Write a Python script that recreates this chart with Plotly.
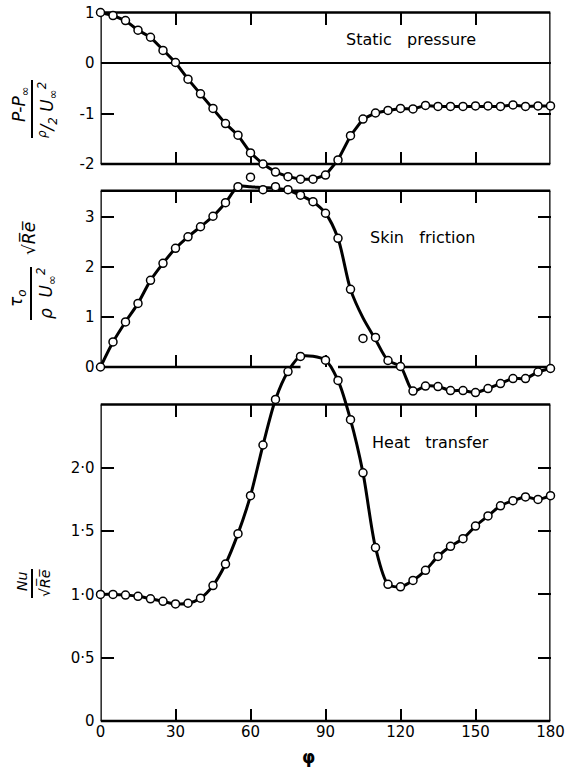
import plotly.graph_objects as go

# ---- data -------------------------------------------------------------
angle = list(range(0, 181, 5))

pressure = [1.00, 0.94, 0.84, 0.65, 0.51, 0.25, 0.01, -0.32, -0.61, -0.90,
            -1.20, -1.43, -1.78, -2.00, -2.16, -2.25, -2.30, -2.30, -2.22, -1.92,
            -1.44, -1.11, -0.99, -0.94, -0.90, -0.91, -0.84, -0.86, -0.86, -0.86,
            -0.85, -0.85, -0.86, -0.83, -0.86, -0.85, -0.85]

friction_pts = [0.00, 0.50, 0.90, 1.27, 1.73, 2.07, 2.37, 2.60, 2.80, 3.01,
                3.28, 3.60, 3.79, 3.54, 3.60, 3.54, 3.43, 3.30, 3.07, 2.57,
                1.55, 0.57, 0.59, 0.13, 0.01, -0.48, -0.38, -0.39, -0.47, -0.47,
                -0.51, -0.43, -0.33, -0.23, -0.23, -0.10, -0.03]

# faired curve through the skin-friction measurements
friction_curve = [0.00, 0.50, 0.90, 1.27, 1.73, 2.07, 2.37, 2.60, 2.80, 3.01,
                  3.28, 3.60, 3.60, 3.58, 3.57, 3.53, 3.43, 3.30, 3.07, 2.57,
                  1.55, 0.98, 0.55, 0.13, 0.01, -0.48, -0.38, -0.39, -0.47, -0.47,
                  -0.51, -0.43, -0.33, -0.23, -0.23, -0.10, -0.03]

heat_angle = [a for a in angle if a != 85]
heat = [1.00, 1.00, 0.995, 0.985, 0.965, 0.945, 0.925, 0.93, 0.97, 1.07,
        1.24, 1.48, 1.78, 2.18, 2.54, 2.76, 2.88, 2.85, 2.69, 2.38,
        1.96, 1.37, 1.08, 1.06, 1.11, 1.19, 1.30, 1.38, 1.44, 1.54,
        1.62, 1.70, 1.74, 1.77, 1.75, 1.78]

x_ticks = [0, 30, 60, 90, 120, 150, 180]
p_ticks = [-2, -1, 0, 1]
p_text = ["-2", "-1", "0", "1"]
f_ticks = [0, 1, 2, 3]
f_text = ["0", "1", "2", "3"]
h_ticks = [0, 0.5, 1.0, 1.5, 2.0]
h_text = ["0", "0·5", "1·0", "1·5", "2·0"]

# ---- layout geometry (pixels) -----------------------------------------
W, H = 571, 768
X0, X1 = 100.5, 550.5
# (top px, bottom px, value at bottom, value at top)
panels = [
    (12.5, 164.0, -2.0, 1.0),
    (190.7, 367.0, 0.0, 3.52),
    (404.5, 721.0, 0.0, 2.5),
]
FONT = "DejaVu Sans"


def px(x):
    return x / W


def py(y):
    return 1 - y / H


def sid(n):
    return "" if n == 1 else str(n)


fig = go.Figure()
layout = dict(
    width=W, height=H,
    margin=dict(l=0, r=0, t=0, b=0, pad=0, autoexpand=False),
    paper_bgcolor="white", plot_bgcolor="rgba(0,0,0,0)",
    showlegend=False, font=dict(family=FONT, size=15, color="black"),
)

tick_sets = [(p_ticks, p_text), (f_ticks, f_text), (h_ticks, h_text)]
for i, (top, bot, lo, hi) in enumerate(panels):
    k = sid(i + 1)
    d = sid(i + 4)
    ax_x = dict(domain=[px(X0), px(X1)], range=[0, 180], anchor=f"y{k}",
                tickvals=x_ticks, ticks="inside", ticklen=12, tickwidth=2,
                tickcolor="black", mirror="ticks", showline=False,
                showgrid=False, zeroline=False, showticklabels=(i == 2),
                tickfont=dict(family=FONT, size=15))
    tv, tt = tick_sets[i]
    ax_y = dict(domain=[py(bot), py(top)], range=[lo, hi], anchor=f"x{k}",
                tickvals=tv, ticktext=tt, ticks="inside", ticklen=13,
                tickwidth=2, tickcolor="black", mirror="ticks", showline=False,
                showgrid=False, zeroline=(i == 0), zerolinewidth=1.8,
                zerolinecolor="black", ticklabelstandoff=5,
                tickfont=dict(family=FONT, size=15))
    layout[f"xaxis{k}"] = ax_x
    layout[f"yaxis{k}"] = ax_y
    # hidden full-height axes carrying the curves so they may cross panel edges
    scale = (hi - lo) / (bot - top)
    v_top = hi + top * scale
    v_bot = hi - (H - top) * scale
    layout[f"xaxis{d}"] = dict(domain=[px(X0), px(X1)], range=[0, 180],
                               anchor=f"y{d}", visible=False)
    layout[f"yaxis{d}"] = dict(domain=[0, 1], range=[v_bot, v_top],
                               anchor=f"x{d}", visible=False)

fig.update_layout(**layout)

marker = dict(symbol="circle", size=8, color="white",
              line=dict(color="black", width=1.5))

fig.add_trace(go.Scatter(x=angle, y=pressure, mode="lines+markers",
                         line=dict(color="black", width=3), marker=marker,
                         xaxis="x4", yaxis="y4", cliponaxis=False))
fig.add_trace(go.Scatter(x=angle, y=friction_curve, mode="lines",
                         line=dict(color="black", width=3, shape="spline",
                                   smoothing=0.8),
                         xaxis="x5", yaxis="y5", cliponaxis=False))
fig.add_trace(go.Scatter(x=angle, y=friction_pts, mode="markers",
                         marker=marker, xaxis="x5", yaxis="y5",
                         cliponaxis=False))
fig.add_trace(go.Scatter(x=heat_angle, y=heat, mode="lines+markers",
                         line=dict(color="black", width=3, shape="spline",
                                   smoothing=0.8),
                         marker=marker, xaxis="x6", yaxis="y6",
                         cliponaxis=False))

# panel frames, drawn as separate edges
frame = dict(color="black", width=2.6)
for i in range(3):
    k = sid(i + 1)
    edges = [(0, 0, 0, 1), (180, 180, 0, 1), (0, 180, 1, 1)]
    if i == 1:
        edges += [(0, 80, 0, 0), (95, 180, 0, 0)]
    else:
        edges += [(0, 180, 0, 0)]
    for (xa, xb, ya, yb) in edges:
        fig.add_shape(type="line", xref=f"x{k}", yref=f"y{k} domain",
                      x0=xa, x1=xb, y0=ya, y1=yb, line=frame, layer="below")


def note(text, cx, cy, size, angle_deg=0):
    fig.add_annotation(text=text, x=px(cx), y=py(cy), xref="paper",
                       yref="paper", xanchor="center", yanchor="middle",
                       showarrow=False, textangle=angle_deg,
                       font=dict(family=FONT, size=size, color="black"))


# panel captions
note("Static\u00a0\u00a0\u00a0pressure", 411, 39, 16)
note("Skin\u00a0\u00a0\u00a0friction", 422, 238, 16)
note("Heat\u00a0\u00a0\u00a0transfer", 430, 442, 16)

# rotated fraction labels for the ordinates
note("<i>P-P<sub>∞</sub></i>", 21, 104, 17, -90)
note("<i><sup>ρ</sup>/<sub>2</sub> U<sub>∞</sub><sup>2</sup></i>", 48, 110, 17, -90)
note("<i>τ<sub>o</sub></i>", 18, 298, 17, -90)
note("<i>ρ\u00a0\u00a0U<sub>∞</sub><sup>2</sup></i>", 46, 293, 17, -90)
note("<i>√R\u0305e\u0305</i>", 29, 238, 17, -90)
note("<i>Nu</i>", 22, 582, 14, -90)
note("<i>√R\u0305e\u0305</i>", 44, 583, 14, -90)

for (bx, y_a, y_b) in [(32, 80, 138), (31, 267, 320), (32, 569, 598)]:
    fig.add_shape(type="line", xref="paper", yref="paper",
                  x0=px(bx), x1=px(bx), y0=py(y_a), y1=py(y_b),
                  line=dict(color="black", width=2))

note("<b>φ</b>", 308, 757, 17)

fig.write_html("out.html")
